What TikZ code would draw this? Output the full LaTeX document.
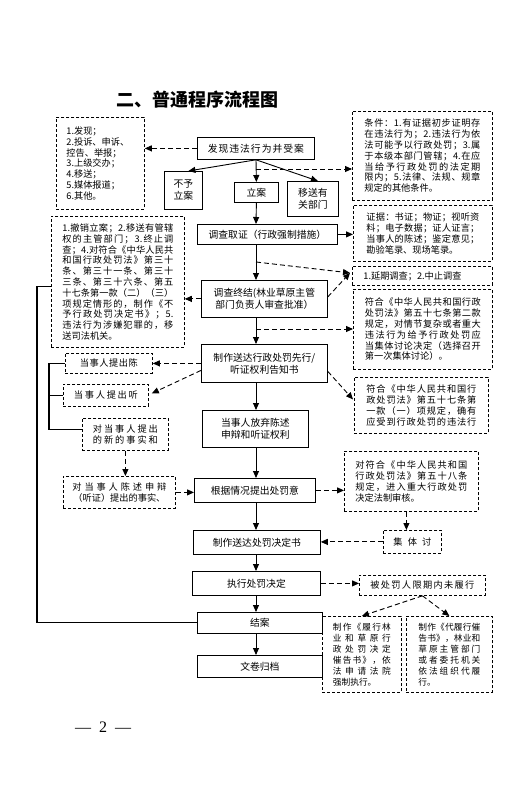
\documentclass[tikz,border=0pt]{standalone}
\usepackage{fontspec}
\setmainfont{Noto Sans CJK SC}
\newfontfamily\pnfont{Liberation Serif}
\usetikzlibrary{arrows.meta,calc}
\newcommand\sprEnd{SPREND}
\newcommand\sprA[1]{#1\sprB}
\newcommand\sprB[1]{\ifx#1\sprEnd\else\hfil#1\expandafter\sprB\fi}
\newcommand\spr[2]{\makebox[#1][s]{\sprA#2\sprEnd}}
\newcommand\J[1]{\spr{\linewidth}{#1}}
\newcommand\mainfs{\fontsize{9.8}{12}\selectfont}
\newcommand\notefs{\fontsize{9.2}{10.8}\selectfont}
\newcommand\smallfs{\fontsize{8.7}{11}\selectfont}
\newcommand\titlefs{\fontsize{18}{20}\selectfont\bfseries}
\begin{document}
\begin{tikzpicture}[x=1pt,y=-1pt,
 mb/.style n args={2}{draw, line width=0.8pt, inner sep=0pt, anchor=north west, minimum width=#1pt, minimum height=#2pt, font=\mainfs, align=center},
 nb/.style n args={3}{draw, line width=0.8pt, dash pattern=on 3pt off 2pt, inner sep=0pt, anchor=north west, minimum width=#1pt, minimum height=#2pt, text width=#3pt, font=\notefs, align=left},
 nc/.style n args={2}{draw, line width=0.8pt, dash pattern=on 3pt off 2pt, inner sep=0pt, anchor=north west, minimum width=#1pt, minimum height=#2pt, font=\notefs, align=center},
 arr/.style={line width=0.9pt, -{Triangle[length=7pt,width=6pt]}},
 darr/.style={arr, dash pattern=on 5pt off 3pt},
 brk/.style={line width=1.1pt}]
\fill[white] (0,0) rectangle (529,794);
\useasboundingbox (0,0) rectangle (529,794);

\node[font=\titlefs] (title) at (197,100) {二、普通程序流程图};

\node[nb={88}{92}{68}] (src) at (56,117) {{1.}发现；\\{2.}投诉、申诉、\\控告、举报；\\{3.}上级交办；\\{4.}移送；\\{5.}媒体报道；\\{6.}其他。};
\node[mb={117}{22}] (find) at (197,137) {\spr{96pt}{发现违法行为并受案}};
\node[mb={38}{38}] (buyu) at (164,171) {不予\\立案};
\node[mb={44}{20}] (lian) at (234,182) {立案};
\node[mb={51}{35}] (yisong) at (287,181) {移送有\\关部门};
\node[nb={140}{89}{116}] (cond) at (352,111) {\J{条件：{1.}有证据初步证明存}\\\J{在违法行为；{2.}违法行为依}\\\J{法可能予以行政处罚；{3.}属}\\\J{于本级本部门管辖；{4.}在应}\\\J{当给予行政处罚的法定期}\\\J{限内；{5.}法律、法规、规章}\\规定的其他条件。};
\node[mb={140}{20}] (diaocha) at (197,224) {调查取证（行政强制措施）};
\node[nb={139}{56}{113}] (evid) at (353,205) {\J{证据：书证；物证；视听资}\\\J{料；电子数据；证人证言；}\\\J{当事人的陈述；鉴定意见；}\\勘验笔录、现场笔录。};
\node[nb={140}{19}{118}] (yanqi) at (352,266) {{1.}延期调查；{2.}中止调查};
\node[mb={126}{37}] (zhongjie) at (201,280) {调查终结(林业草原主管\\部门负责人审查批准）};
\node[nb={133}{131}{111}] (bigbox) at (51,216) {\J{{1.}撤销立案；{2.}移送有管辖}\\\J{权的主管部门；{3.}终止调}\\\J{查；{4.}对符合《中华人民共}\\\J{和国行政处罚法》第三十}\\\J{条、第三十一条、第三十}\\\J{三条、第三十六条、第五}\\\J{十七条第一款（二）（三）}\\\J{项规定情形的，制作《不}\\\J{予行政处罚决定书》；{5.}}\\\J{违法行为涉嫌犯罪的，移}\\送司法机关。};
\node[nb={139}{80}{116}] (qi2) at (353,289) {\J{符合《中华人民共和国行政}\\\J{处罚法》第五十七条第二款}\\\J{规定，对情节复杂或者重大}\\\J{违法行为给予行政处罚应}\\\J{当集体讨论决定（选择召开}\\第一次集体讨论）。};
\node[mb={126}{38}] (zhizuo1) at (201,344) {制作送达行政处罚先行/\\听证权利告知书};
\node[nb={134}{56}{110}] (qi1) at (354,377) {\J{符合《中华人民共和国行}\\\J{政处罚法》第五十七条第}\\\J{一款（一）项规定，确有}\\\J{应受到行政处罚的违法行}};
\node[nc={87}{20}] (chen) at (65,353) {\spr{58pt}{当事人提出陈}};
\node[nc={85}{22}] (ting) at (63,384) {\spr{64pt}{当事人提出听}};
\node[nc={86}{32}] (xin) at (82,418) {\spr{65pt}{对当事人提出}\\\spr{65pt}{的新的事实和}};
\node[nc={112}{32}] (shenbian) at (63,476) {\spr{94pt}{对当事人陈述申辩}\\\spr{92pt}{（听证）提出的事实、}};
\node[mb={106}{37}] (fangqi) at (202,410) {当事人放弃陈述\\申辩和听证权利};
\node[mb={121}{24}] (genju) at (194,478) {根据情况提出处罚意};
\node[nb={134}{60}{112}] (shenhe) at (344,451) {\J{对符合《中华人民共和国}\\\J{行政处罚法》第五十八条}\\\J{规定，进入重大行政处罚}\\决定法制审核。};
\node[nc={58}{23}] (jiti) at (383,530) {\spr{38pt}{集体讨}};
\node[mb={127}{24}] (jueding) at (193,530) {制作送达处罚决定书};
\node[mb={128}{24}] (zhixing) at (192,571) {执行处罚决定};
\node[nc={126}{20}] (beichufa) at (359,575) {\spr{104pt}{被处罚人限期内未履行}};
\node[mb={125}{21}] (jiean) at (197,612) {结案};
\node[mb={125}{22}] (guidang) at (197,655) {文卷归档};
\node[nb={79}{76}{58}, font=\smallfs] (lvxing) at (322,616) {\J{制作《履行林}\\\J{业和草原行}\\\J{政处罚决定}\\\J{催告书》，依}\\\J{法申请法院}\\强制执行。};
\node[nb={86}{76}{62}, font=\smallfs] (dai) at (406,616) {\J{制作《代履行催}\\\J{告书》，林业和}\\\J{草原主管部门}\\\J{或者委托机关}\\\J{依法组织代履}\\行。};

\node[font=\pnfont\fontsize{16}{20}\selectfont] (pn) at (103,727) {—\hspace{8pt}2\hspace{8pt}—};

% connectors
\coordinate (col) at (256,0);
\draw[arr] (find.south -| col) -- (lian.north);
\draw[arr] (find.south -| col) -- ([xshift=5pt]buyu.north);
\draw[arr] (find.south -| col) -- ([xshift=5pt]yisong.north);
\coordinate (d1) at (256,169);
\draw[darr] (d1) -- (d1 -| cond.west);
\draw[darr] (find.west) -- (find.west -| src.east);
\draw[arr] (lian.south) -- (col |- diaocha.north);
\draw[arr] (col |- diaocha.south) -- (col |- zhongjie.north);
\draw[arr] (diaocha.east) -- (diaocha.east -| evid.west);
\coordinate (d2) at (256,262);
\coordinate (yq) at ($(yanqi.west)+(-2,-3)$);
\draw[darr] (d2) -- (yq);
\draw[darr] ($(zhongjie.east)+(0,-2)$) -- (yq);
\draw[darr] (zhongjie.west) -- (zhongjie.west -| bigbox.east);
\draw[brk] ($(bigbox.west)+(0,5)$) -- ++(-14,0) |- (jiean.west);
\coordinate (d3) at (256,329);
\draw[darr] (d3) -- (d3 -| qi2.west);
\draw[arr] (col |- zhongjie.south) -- (col |- zhizuo1.north);
\draw[darr] ($(zhizuo1.east)+(0,8)$) -- ($(qi1.west)+(-1,-6)$);
\draw[darr] (zhizuo1.west) -- (zhizuo1.west -| chen.east);
\draw[darr] ($(zhizuo1.west)+(0,7)$) -- ($(ting.east)+(3,-2)$);
\coordinate (bx) at (49,0);
\coordinate (xw) at ($(xin.west)+(0,-5)$);
\draw[brk] (chen.west) -- (chen.west -| bx) -- (bx |- xw) -- (xw);
\draw[brk] (ting.west) -- (ting.west -| bx);
\draw[darr] (xin.south) -- (xin.south |- shenbian.north);
\draw[arr] (col |- zhizuo1.south) -- (col |- fangqi.north);
\draw[arr] (col |- fangqi.south) -- (col |- genju.north);
\draw[darr] (shenbian.east) -- (shenbian.east -| genju.west);
\draw[darr] (genju.east) -- (genju.east -| shenhe.west);
\coordinate (jt) at ($(jiti.north)+(-6,0)$);
\draw[darr] (jt |- shenhe.south) -- (jt);
\draw[arr] (col |- genju.south) -- (col |- jueding.north);
\draw[darr] (jiti.west) -- (jiti.west -| jueding.east);
\draw[arr] (col |- jueding.south) -- (col |- zhixing.north);
\draw[darr] (zhixing.east) -- (zhixing.east -| beichufa.west);
\draw[arr] (col |- zhixing.south) -- (col |- jiean.north);
\draw[arr] (col |- jiean.south) -- (col |- guidang.north);
\draw[darr] (beichufa.south) -- (lvxing.north);
\draw[darr] (beichufa.south) -- (dai.north);
\end{tikzpicture}
\end{document}
